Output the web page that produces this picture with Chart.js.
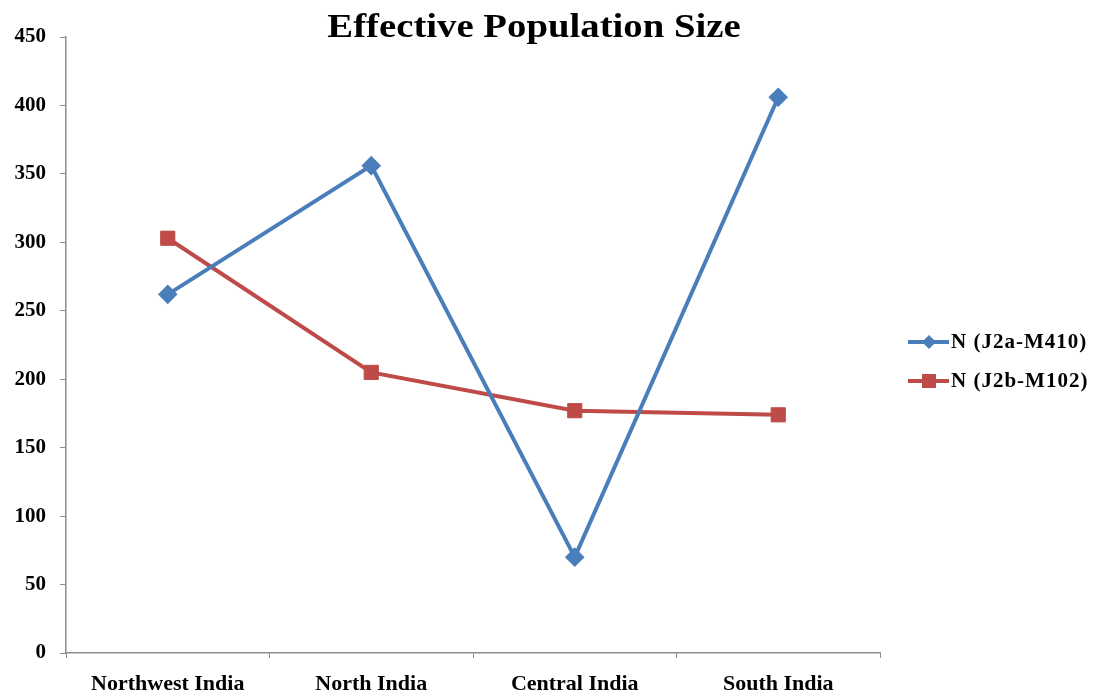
<!DOCTYPE html>
<html>
<head>
<meta charset="utf-8">
<script src="https://cdn.jsdelivr.net/npm/chart.js@4"></script>
<style>
    body { margin: 0; background: #fff; }
    #wrap { width: 1096px; height: 695px; }
</style>
</head>
<body>
<div id="wrap"><canvas id="popChart" width="1096" height="695"></canvas></div>
<script>
const regions = ["Northwest India", "North India", "Central India", "South India"];
const j2aValues = [262, 356, 70, 406];
const j2bValues = [303, 205, 177, 174];
const seriesNames = ["N (J2a-M410)", "N (J2b-M102)"];
const yTicks = [0, 50, 100, 150, 200, 250, 300, 350, 400, 450];

const blue = "#4A7EBB";
const red = "#BE4B48";
const axisGrey = "#8C8C8C";
const serif = '"Liberation Serif", "Times New Roman", serif';

// title and excel-style legend (line + marker) drawn by hand
const decorPlugin = {
    id: 'decor',
    afterDraw(chart) {
        const { ctx } = chart;
        ctx.save();
        ctx.fillStyle = '#000';
        ctx.textAlign = 'center';
        ctx.textBaseline = 'middle';
        ctx.font = 'bold 34px ' + serif;
        // excel renders the title a bit wider than our serif
        ctx.translate(534, 28);
        ctx.scale(1.14, 1);
        ctx.fillText('Effective Population Size', 0, 0);
        ctx.restore();

        ctx.save();
        ctx.font = 'bold 21px ' + serif;
        ctx.letterSpacing = '1px';
        ctx.textAlign = 'left';
        ctx.textBaseline = 'middle';
        chart.data.datasets.forEach((ds, i) => {
            const y = 342 + i * 39;
            ctx.strokeStyle = ds.borderColor;
            ctx.lineWidth = 4;
            ctx.beginPath();
            ctx.moveTo(908, y);
            ctx.lineTo(949, y);
            ctx.stroke();
            ctx.fillStyle = ds.pointBackgroundColor;
            ctx.beginPath();
            if (ds.pointStyle === 'rectRot') {
                ctx.moveTo(929, y - 7);
                ctx.lineTo(936, y);
                ctx.lineTo(929, y + 7);
                ctx.lineTo(922, y);
            } else {
                ctx.rect(922, y - 7, 14, 14);
            }
            ctx.closePath();
            ctx.fill();
            ctx.fillStyle = '#000';
            ctx.fillText(ds.label, 951, y + 1);
        });
        ctx.restore();
    }
};

new Chart(document.getElementById("popChart"), {
    type: "line",
    data: {
        labels: regions,
        datasets: [{
            label: seriesNames[0],
            data: j2aValues,
            borderColor: blue,
            backgroundColor: blue,
            pointBackgroundColor: blue,
            pointBorderColor: blue,
            pointStyle: 'rectRot',
            pointRadius: 7,
            borderWidth: 4,
            fill: false
        }, {
            label: seriesNames[1],
            data: j2bValues,
            borderColor: red,
            backgroundColor: red,
            pointBackgroundColor: red,
            pointBorderColor: red,
            pointStyle: 'rect',
            pointRadius: 10,
            pointBorderWidth: 1,
            borderWidth: 4,
            fill: false
        }]
    },
    options: {
        responsive: false,
        animation: false,
        layout: {
            padding: { top: 37, right: 216, left: 0, bottom: 0 }
        },
        scales: {
            x: {
                offset: true,
                grid: {
                    offset: true,
                    drawOnChartArea: false,
                    drawTicks: true,
                    tickLength: 5,
                    color: axisGrey
                },
                border: { color: axisGrey, width: 1.5 },
                ticks: {
                    color: '#000',
                    padding: 13,
                    maxRotation: 0,
                    font: { family: serif, size: 22, weight: 'bold' }
                },
                afterFit(scale) { scale.height = 42; }
            },
            y: {
                min: 0,
                max: 450,
                afterBuildTicks(scale) {
                    scale.ticks = yTicks.map(v => ({ value: v }));
                },
                grid: {
                    drawOnChartArea: false,
                    drawTicks: true,
                    tickLength: 6,
                    color: axisGrey
                },
                border: { color: axisGrey, width: 1.5 },
                ticks: {
                    color: '#000',
                    padding: 14,
                    font: { family: serif, size: 21, weight: 'bold' }
                },
                afterFit(scale) { scale.width = 66; }
            }
        },
        plugins: {
            legend: { display: false },
            tooltip: { enabled: false }
        }
    },
    plugins: [decorPlugin]
});
</script>
</body>
</html>
